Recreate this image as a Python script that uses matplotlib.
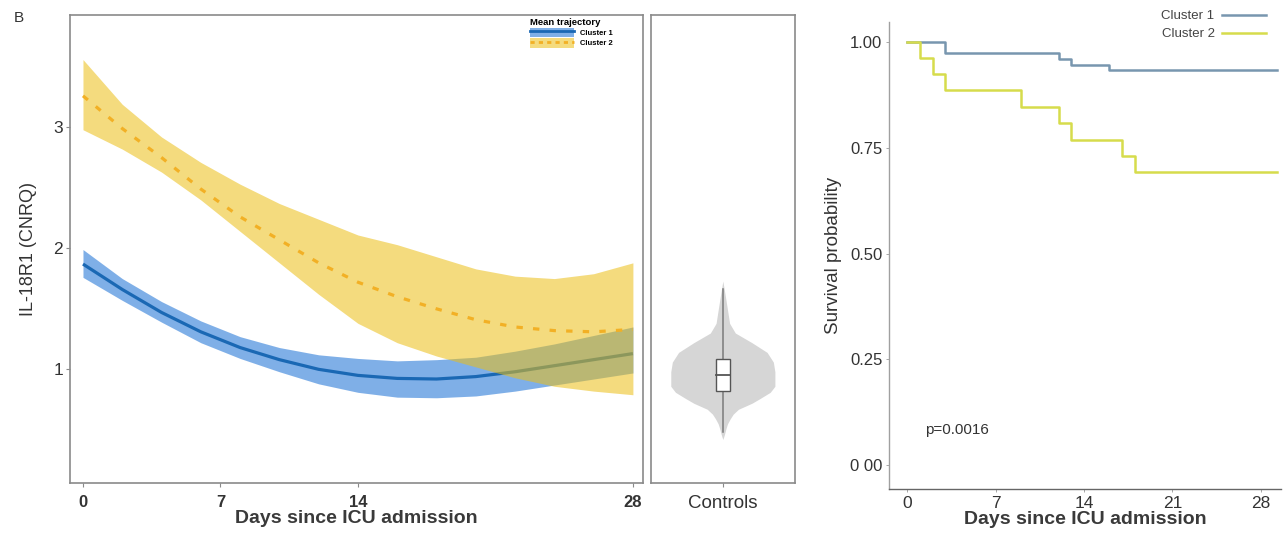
import matplotlib
matplotlib.use("Agg")
import matplotlib.pyplot as plt
from matplotlib import font_manager
from matplotlib.patches import Patch
from matplotlib.lines import Line2D
from matplotlib.legend_handler import HandlerTuple

# ---------------- data ----------------
days = [0, 2, 4, 6, 8, 10, 12, 14, 16, 18, 20, 22, 24, 26, 28]
c1_mean = [1.87, 1.66, 1.47, 1.31, 1.18, 1.08, 1.00, 0.95, 0.925, 0.92, 0.94, 0.98, 1.03, 1.08, 1.13]
c1_upper = [1.99, 1.75, 1.56, 1.40, 1.27, 1.18, 1.12, 1.09, 1.07, 1.08, 1.10, 1.15, 1.21, 1.28, 1.35]
c1_lower = [1.76, 1.57, 1.39, 1.22, 1.09, 0.98, 0.88, 0.81, 0.77, 0.765, 0.78, 0.82, 0.87, 0.92, 0.97]
c2_mean = [3.26, 2.99, 2.75, 2.49, 2.26, 2.07, 1.88, 1.72, 1.60, 1.50, 1.41, 1.35, 1.32, 1.31, 1.33]
c2_upper = [3.56, 3.19, 2.92, 2.71, 2.53, 2.37, 2.24, 2.11, 2.03, 1.93, 1.83, 1.77, 1.75, 1.79, 1.88]
c2_lower = [2.98, 2.82, 2.63, 2.40, 2.14, 1.88, 1.62, 1.38, 1.22, 1.11, 1.02, 0.93, 0.86, 0.82, 0.79]
traj_ticks = [0, 7, 14, 28]
traj_yticks = [1, 2, 3]

# controls violin profile (value, relative half-width) and box statistics
ctrl_vals = [1.73, 1.60, 1.49, 1.38, 1.30, 1.22, 1.14, 1.06, 0.98, 0.92, 0.86,
             0.81, 0.76, 0.72, 0.67, 0.63, 0.59, 0.55, 0.51, 0.46, 0.42]
ctrl_dens = [0.0, 0.05, 0.09, 0.13, 0.24, 0.56, 0.85, 0.97, 1.0, 1.0, 1.0,
             0.91, 0.72, 0.56, 0.30, 0.20, 0.14, 0.09, 0.06, 0.03, 0.0]
ctrl_q1, ctrl_median, ctrl_q3 = 0.82, 0.95, 1.085
ctrl_whisk_lo, ctrl_whisk_hi = 0.48, 1.66

# Kaplan-Meier survival
km1_time = [0, 3, 12, 13, 16, 29.3]
km1_surv = [1.0, 0.973, 0.959, 0.946, 0.932, 0.932]
km2_time = [0, 1, 2, 3, 9, 12, 13, 17, 18, 29.3]
km2_surv = [1.0, 0.962, 0.923, 0.885, 0.846, 0.808, 0.769, 0.731, 0.692, 0.692]
km_xticks = [0, 7, 14, 21, 28]
km_yticks = [0.0, 0.25, 0.50, 0.75, 1.00]
km_yticklabels = ["0 00", "0.25", "0.50", "0.75", "1.00"]
p_text = "p=0.0016"

# ---------------- fonts ----------------
avail = {f.name for f in font_manager.fontManager.ttflist}
narrow = "Liberation Sans Narrow" if "Liberation Sans Narrow" in avail else "Liberation Sans"
plt.rcParams["font.family"] = ["Liberation Sans", "DejaVu Sans"]

GRAY_FRAME = "#8a8a8a"
TXT = "#333333"
BLUE_FILL = (0.0, 0.38, 0.82)
YEL_FILL = (0.92, 0.745, 0.08)

fig = plt.figure(figsize=(12.87, 5.36), dpi=100)

# ---------------- left panel: trajectories ----------------
ax = fig.add_axes([0.0544, 0.0994, 0.4450, 0.8726])
ax.fill_between(days, c1_lower, c1_upper, color=BLUE_FILL, alpha=0.5, lw=0, zorder=1)
ax.plot(days, c1_mean, color="#1a68b4", lw=2.3, zorder=2, solid_capstyle="butt")
ax.fill_between(days, c2_lower, c2_upper, color=YEL_FILL, alpha=0.55, lw=0, zorder=3)
ax.plot(days, c2_mean, color="#f2b025", lw=2.3, ls=(0, (2.0, 3.2)), zorder=4)
ax.set_xlim(-0.66, 28.5)
ax.set_ylim(0.063, 3.928)
ax.set_xticks(traj_ticks)
ax.set_xticklabels([str(t) for t in traj_ticks], fontfamily=narrow, fontsize=12,
                   fontweight="bold", color=TXT)
ax.set_yticks(traj_yticks)
ax.set_yticklabels([str(t) for t in traj_yticks], fontfamily=narrow, fontsize=12.5, color=TXT)
ax.tick_params(axis="y", length=3, width=0.8, color=GRAY_FRAME, pad=2)
ax.tick_params(axis="x", length=3, width=0.8, color=GRAY_FRAME, pad=6)
for s in ax.spines.values():
    s.set_color(GRAY_FRAME)
    s.set_linewidth(1.2)
ax.set_xlabel("Days since ICU admission", fontsize=14, fontweight="bold", color="#3a3a3a", labelpad=-0.5)
ax.set_ylabel("IL-18R1 (CNRQ)", fontsize=13, color=TXT, labelpad=12)

h1 = (Patch(facecolor=BLUE_FILL, alpha=0.5, lw=0), Line2D([], [], color="#1a68b4", lw=2.0))
h2 = (Patch(facecolor=YEL_FILL, alpha=0.55, lw=0),
      Line2D([], [], color="#f2b025", lw=2.0, ls=(0, (1.5, 1.5))))
leg = ax.legend([h1, h2], ["Cluster 1", "Cluster 2"], handler_map={tuple: HandlerTuple(ndivide=1)},
                title="Mean trajectory", loc="upper left", bbox_to_anchor=(0.793, 1.005),
                frameon=False, prop={"size": 5.5, "weight": "bold"},
                title_fontproperties={"size": 6.8, "weight": "bold"},
                handlelength=5.8, handleheight=1.55, handletextpad=0.8, labelspacing=0.1,
                borderpad=0.2, alignment="left")

# ---------------- middle panel: controls violin ----------------
axm = fig.add_axes([0.5056, 0.0994, 0.1121, 0.8726], sharey=ax)
half = 0.433
left_edge = [1 - half * d for d in ctrl_dens]
right_edge = [1 + half * d for d in ctrl_dens]
axm.fill_betweenx(ctrl_vals, left_edge, right_edge, color="#d6d6d6", lw=0, zorder=1)
axm.plot([1, 1], [ctrl_whisk_lo, ctrl_whisk_hi], color="#7a7a7a", lw=1.1, zorder=2)
axm.bar([1], [ctrl_q3 - ctrl_q1], bottom=[ctrl_q1], width=0.115, color="white",
        edgecolor="#555555", lw=1.0, zorder=3)
axm.plot([0.943, 1.057], [ctrl_median, ctrl_median], color="#555555", lw=1.3, zorder=4)
axm.set_xlim(0.4, 1.6)
axm.set_xticks([1])
axm.set_xticklabels(["Controls"], fontsize=13.5, color=TXT, fontfamily=narrow)
axm.tick_params(axis="x", length=3, width=0.8, color=GRAY_FRAME, pad=6)
axm.tick_params(axis="y", left=False, labelleft=False)
for s in axm.spines.values():
    s.set_color(GRAY_FRAME)
    s.set_linewidth(1.2)

# ---------------- right panel: survival ----------------
axk = fig.add_axes([0.6910, 0.0882, 0.3044, 0.8713])
axk.step(km1_time, km1_surv, where="post", color="#7896af", lw=1.8, label="Cluster 1")
axk.step(km2_time, km2_surv, where="post", color="#d6dc4c", lw=1.8, label="Cluster 2")
axk.set_xlim(-1.42, 29.6)
axk.set_ylim(-0.055, 1.047)
axk.set_xticks(km_xticks)
axk.set_xticklabels([str(t) for t in km_xticks], fontfamily=narrow, fontsize=12.5, color=TXT)
axk.set_yticks(km_yticks)
axk.set_yticklabels(km_yticklabels, fontfamily=narrow, fontsize=12, color=TXT)
axk.tick_params(length=2, width=0.6, color="#999999", pad=3)
for side in ("top", "right"):
    axk.spines[side].set_visible(False)
axk.spines["left"].set_color("#a0a0a0")
axk.spines["left"].set_linewidth(1.0)
axk.spines["bottom"].set_color("#666666")
axk.spines["bottom"].set_linewidth(1.0)
axk.set_xlabel("Days since ICU admission", fontsize=14, fontweight="bold", color="#3a3a3a", labelpad=0.5)
axk.set_ylabel("Survival probability", fontsize=13.5, color=TXT, labelpad=6)
axk.text(1.4, 0.084, p_text, fontsize=11, color=TXT, fontfamily=narrow, va="center", ha="left")
axk.legend(loc="upper right", bbox_to_anchor=(0.985, 1.045), frameon=False, markerfirst=False,
           fontsize=9.5, labelcolor="#444444", handlelength=3.3, handletextpad=0.6,
           labelspacing=0.45, borderpad=0.2)

fig.text(14 / 1287, 1 - 18 / 536, "B", fontsize=11, color=TXT, ha="left", va="center")

fig.savefig("out.png", dpi=100)
